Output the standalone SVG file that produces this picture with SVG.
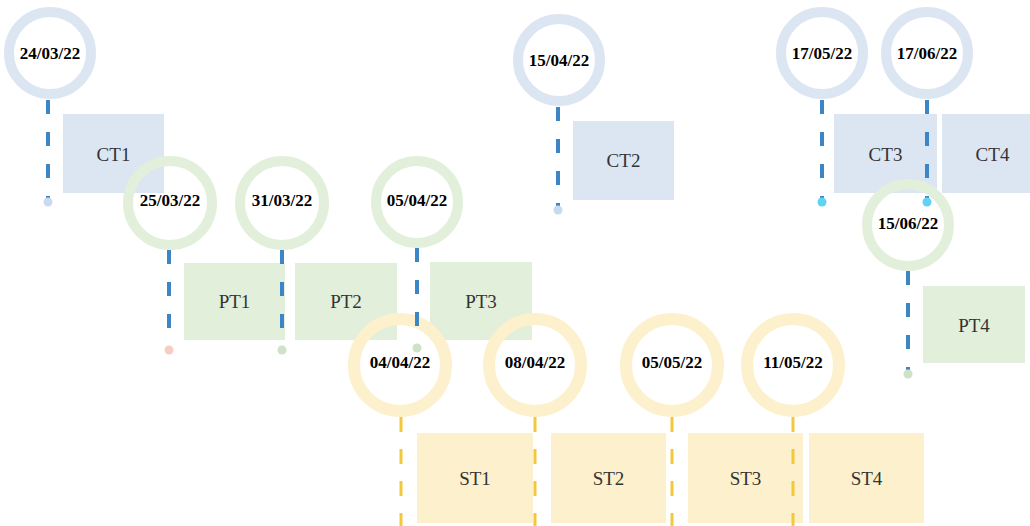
<svg xmlns="http://www.w3.org/2000/svg" width="1030" height="526" viewBox="0 0 1030 526">
  <style>
    .ct { fill: #dce6f3; }
    .pt { fill: #e2efda; }
    .st { fill: #fdf0cd; }
    .ring { fill: none; }
    .ring-c { stroke: #dce6f3; stroke-width: 10; }
    .ring-p { stroke: #e2efda; stroke-width: 10; }
    .ring-s { stroke: #fdf0cd; stroke-width: 12; }
    .date { font-family: "Liberation Serif", "Times New Roman", serif; font-weight: bold; font-size: 17px; fill: #000; text-anchor: middle; dominant-baseline: central; }
    .label { font-family: "Liberation Serif", "Times New Roman", serif; font-size: 19px; fill: #333; text-anchor: middle; dominant-baseline: central; }
    .dash-b { stroke: #3d86c6; stroke-width: 4; stroke-dasharray: 14 18; fill: none; }
    .dash-y { stroke: #f3c83c; stroke-width: 3; stroke-dasharray: 15 17; fill: none; }
  </style>

  <!-- task boxes -->
  <g id="CT1"><rect class="ct" x="63" y="114" width="101" height="79"/><text class="label" x="113.5" y="154">CT1</text></g>
  <g id="CT2"><rect class="ct" x="573" y="121" width="101" height="79"/><text class="label" x="623.5" y="160">CT2</text></g>
  <g id="CT3"><rect class="ct" x="834" y="114" width="103" height="79"/><text class="label" x="885.5" y="154">CT3</text></g>
  <g id="CT4"><rect class="ct" x="942" y="114" width="101" height="79"/><text class="label" x="992.5" y="154">CT4</text></g>
  <g id="PT1"><rect class="pt" x="184" y="263" width="101" height="77"/><text class="label" x="234.5" y="301">PT1</text></g>
  <g id="PT2"><rect class="pt" x="295" y="263" width="102" height="77"/><text class="label" x="346" y="301">PT2</text></g>
  <g id="PT3"><rect class="pt" x="430" y="262" width="102" height="78"/><text class="label" x="481" y="301">PT3</text></g>
  <g id="PT4"><rect class="pt" x="923" y="286" width="102" height="77"/><text class="label" x="974" y="325">PT4</text></g>
  <g id="ST1"><rect class="st" x="417" y="433" width="116" height="90"/><text class="label" x="475" y="478">ST1</text></g>
  <g id="ST2"><rect class="st" x="551" y="433" width="115" height="90"/><text class="label" x="608.5" y="478">ST2</text></g>
  <g id="ST3"><rect class="st" x="688" y="433" width="115" height="90"/><text class="label" x="745.5" y="478">ST3</text></g>
  <g id="ST4"><rect class="st" x="809" y="433" width="115" height="90"/><text class="label" x="866.5" y="478">ST4</text></g>

  <!-- milestone dates -->
  <g id="m-240322"><circle class="ring ring-c" cx="50" cy="53" r="41"/><text class="date" x="50" y="53">24/03/22</text></g>
  <g id="m-150422"><circle class="ring ring-c" cx="559" cy="60" r="41"/><text class="date" x="559" y="60">15/04/22</text></g>
  <g id="m-170522"><circle class="ring ring-c" cx="822" cy="53" r="41"/><text class="date" x="822" y="53">17/05/22</text></g>
  <g id="m-170622"><circle class="ring ring-c" cx="927" cy="53" r="41"/><text class="date" x="927" y="53">17/06/22</text></g>
  <g id="m-250322"><circle class="ring ring-p" cx="170" cy="203" r="42"/><text class="date" x="170" y="200">25/03/22</text></g>
  <g id="m-310322"><circle class="ring ring-p" cx="282" cy="203" r="42"/><text class="date" x="282" y="200">31/03/22</text></g>
  <g id="m-050422"><circle class="ring ring-p" cx="417" cy="202" r="41"/><text class="date" x="417" y="200">05/04/22</text></g>
  <g id="m-150622"><circle class="ring ring-p" cx="908" cy="225" r="41"/><text class="date" x="908" y="223">15/06/22</text></g>
  <g id="m-040422"><circle class="ring ring-s" cx="400" cy="365" r="46"/><text class="date" x="400" y="362">04/04/22</text></g>
  <g id="m-080422"><circle class="ring ring-s" cx="535" cy="365" r="46"/><text class="date" x="535" y="362">08/04/22</text></g>
  <g id="m-050522"><circle class="ring ring-s" cx="672" cy="365" r="46"/><text class="date" x="672" y="362">05/05/22</text></g>
  <g id="m-110522"><circle class="ring ring-s" cx="793" cy="365" r="46"/><text class="date" x="793" y="362">11/05/22</text></g>

  <!-- dashed drop lines with end dots -->
  <g id="connectors">
    <line class="dash-b" x1="48" y1="100" x2="48" y2="200"/><circle cx="48" cy="202" r="4.5" fill="#c9daf0"/>
    <line class="dash-b" x1="558" y1="107" x2="558" y2="208"/><circle cx="558" cy="210" r="4.5" fill="#c9daf0"/>
    <line class="dash-b" x1="822" y1="100" x2="822" y2="200"/><circle cx="822" cy="202" r="4.5" fill="#5fd3f3"/>
    <line class="dash-b" x1="927" y1="100" x2="927" y2="200"/><circle cx="927" cy="202" r="4.5" fill="#5fd3f3"/>
    <line class="dash-b" x1="169" y1="250" x2="169" y2="348"/><circle cx="169" cy="350" r="4.5" fill="#f6cdbf"/>
    <line class="dash-b" x1="282" y1="250" x2="282" y2="348"/><circle cx="282" cy="350" r="4.5" fill="#cfe1c6"/>
    <line class="dash-b" x1="417" y1="248" x2="417" y2="346"/><circle cx="417" cy="348" r="4.5" fill="#cfe1c6"/>
    <line class="dash-b" x1="908" y1="271" x2="908" y2="372"/><circle cx="908" cy="374" r="4.5" fill="#cfe1c6"/>
    <line class="dash-y" x1="401" y1="417" x2="401" y2="526"/>
    <line class="dash-y" x1="535" y1="417" x2="535" y2="526"/>
    <line class="dash-y" x1="672" y1="417" x2="672" y2="526"/>
    <line class="dash-y" x1="793" y1="417" x2="793" y2="526"/>
  </g>
</svg>
